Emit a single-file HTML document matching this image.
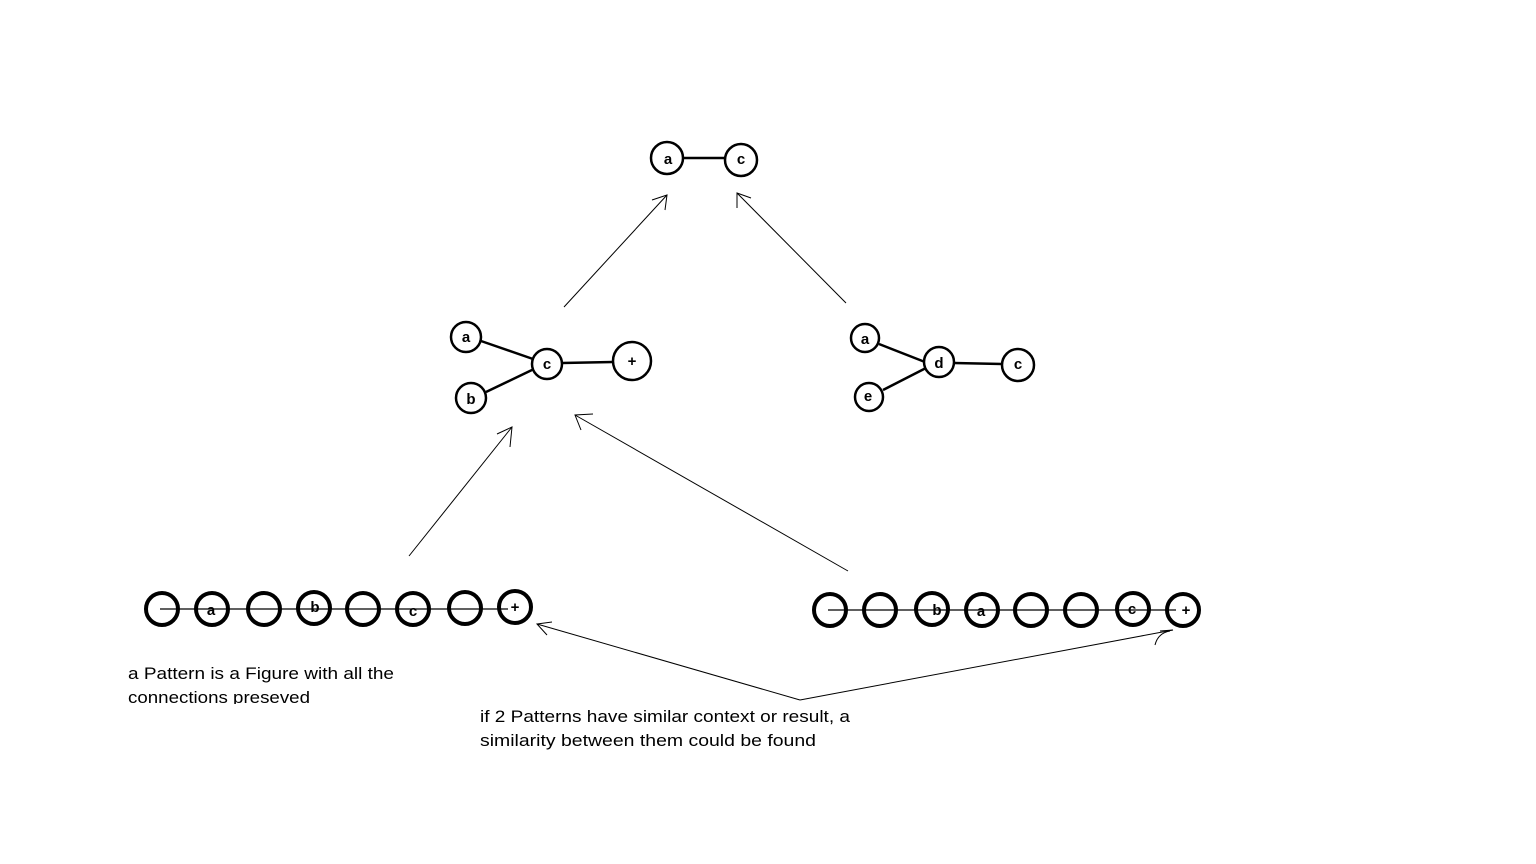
<!DOCTYPE html>
<html><head><style>html,body{margin:0;padding:0;background:#fff}svg{display:block}</style></head>
<body>
<svg width="1536" height="864" viewBox="0 0 1536 864" xmlns="http://www.w3.org/2000/svg" font-family="Liberation Sans, sans-serif">
<defs><clipPath id="c1"><rect x="100" y="650" width="400" height="54"/></clipPath></defs>
<g stroke="#000" fill="none">
<!-- top -->
<line x1="683" y1="158" x2="725" y2="158" stroke-width="2.5"/>
<circle cx="667" cy="158" r="16" stroke-width="2.5" fill="#fff"/>
<circle cx="741" cy="160" r="16" stroke-width="2.5" fill="#fff"/>
<!-- middle left -->
<line x1="481" y1="341" x2="533" y2="359" stroke-width="2.5"/>
<line x1="486" y1="392" x2="534" y2="369" stroke-width="2.5"/>
<line x1="562" y1="363" x2="613" y2="362" stroke-width="2.5"/>
<circle cx="466" cy="337" r="15" stroke-width="2.5" fill="#fff"/>
<circle cx="471" cy="398" r="15" stroke-width="2.5" fill="#fff"/>
<circle cx="547" cy="364" r="15" stroke-width="2.5" fill="#fff"/>
<circle cx="632" cy="361" r="19" stroke-width="2.5" fill="#fff"/>
<!-- middle right -->
<line x1="879" y1="344" x2="925" y2="362" stroke-width="2.5"/>
<line x1="883" y1="390" x2="926" y2="368" stroke-width="2.5"/>
<line x1="954" y1="363" x2="1002" y2="364" stroke-width="2.5"/>
<circle cx="865" cy="338" r="14" stroke-width="2.5" fill="#fff"/>
<circle cx="869" cy="397" r="14" stroke-width="2.5" fill="#fff"/>
<circle cx="939" cy="362" r="15" stroke-width="2.5" fill="#fff"/>
<circle cx="1018" cy="365" r="16" stroke-width="2.5" fill="#fff"/>
<!-- bottom rows -->
<g stroke-width="4">
<circle cx="162" cy="609" r="16"/><circle cx="212" cy="609" r="16"/><circle cx="264" cy="609" r="16"/><circle cx="314" cy="608" r="16"/>
<circle cx="363" cy="609" r="16"/><circle cx="413" cy="609" r="16"/><circle cx="465" cy="608" r="16"/><circle cx="515" cy="607" r="16"/>
<circle cx="830" cy="610" r="16"/><circle cx="880" cy="610" r="16"/><circle cx="932" cy="609" r="16"/><circle cx="982" cy="610" r="16"/>
<circle cx="1031" cy="610" r="16"/><circle cx="1081" cy="610" r="16"/><circle cx="1133" cy="609" r="16"/><circle cx="1183" cy="610" r="16"/>
</g>
<line x1="160" y1="609" x2="508" y2="609" stroke-width="1.2"/>
<line x1="828" y1="610" x2="1176" y2="610" stroke-width="1.2"/>
<!-- arrows -->
<g stroke-width="1">
<line x1="564" y1="307" x2="667" y2="195"/><polyline points="652,200 667,195 665,210"/>
<line x1="846" y1="303" x2="737" y2="193"/><polyline points="737,208 737,193 751,198"/>
<line x1="409" y1="556" x2="512" y2="427"/><polyline points="497,434 512,427 510,447"/>
<line x1="848" y1="571" x2="575" y2="415"/><polyline points="581,430 575,415 593,414"/>
<line x1="800" y1="700" x2="537" y2="624"/><polyline points="547,635 537,624 552,622"/>
<line x1="800" y1="700" x2="1173" y2="630"/><path d="M1155,645 Q1158,633 1170,631 M1160,631 L1173,630"/>
</g>
</g>
<g font-size="15" font-weight="bold" text-anchor="middle" fill="#000">
<text x="668" y="164">a</text><text x="741" y="164">c</text>
<text x="466" y="342">a</text><text x="471" y="404">b</text><text x="547" y="369">c</text><text x="632" y="366">+</text>
<text x="865" y="344">a</text><text x="868" y="401">e</text><text x="939" y="368">d</text><text x="1018" y="369">c</text>
<text x="211" y="615">a</text><text x="315" y="612">b</text><text x="413" y="616">c</text><text x="515" y="612">+</text>
<text x="937" y="615">b</text><text x="981" y="616">a</text><text x="1132" y="614">c</text><text x="1186" y="615">+</text>
</g>
<g font-size="17" fill="#000">
<g clip-path="url(#c1)">
<text x="128" y="679" textLength="266" lengthAdjust="spacingAndGlyphs">a Pattern is a Figure with all the</text>
<text x="128" y="703" textLength="182" lengthAdjust="spacingAndGlyphs">connections preseved</text>
</g>
<text x="480" y="722" textLength="370" lengthAdjust="spacingAndGlyphs">if 2 Patterns have similar context or result, a</text>
<text x="480" y="746" textLength="336" lengthAdjust="spacingAndGlyphs">similarity between them could be found</text>
</g>
</svg>
</body></html>
